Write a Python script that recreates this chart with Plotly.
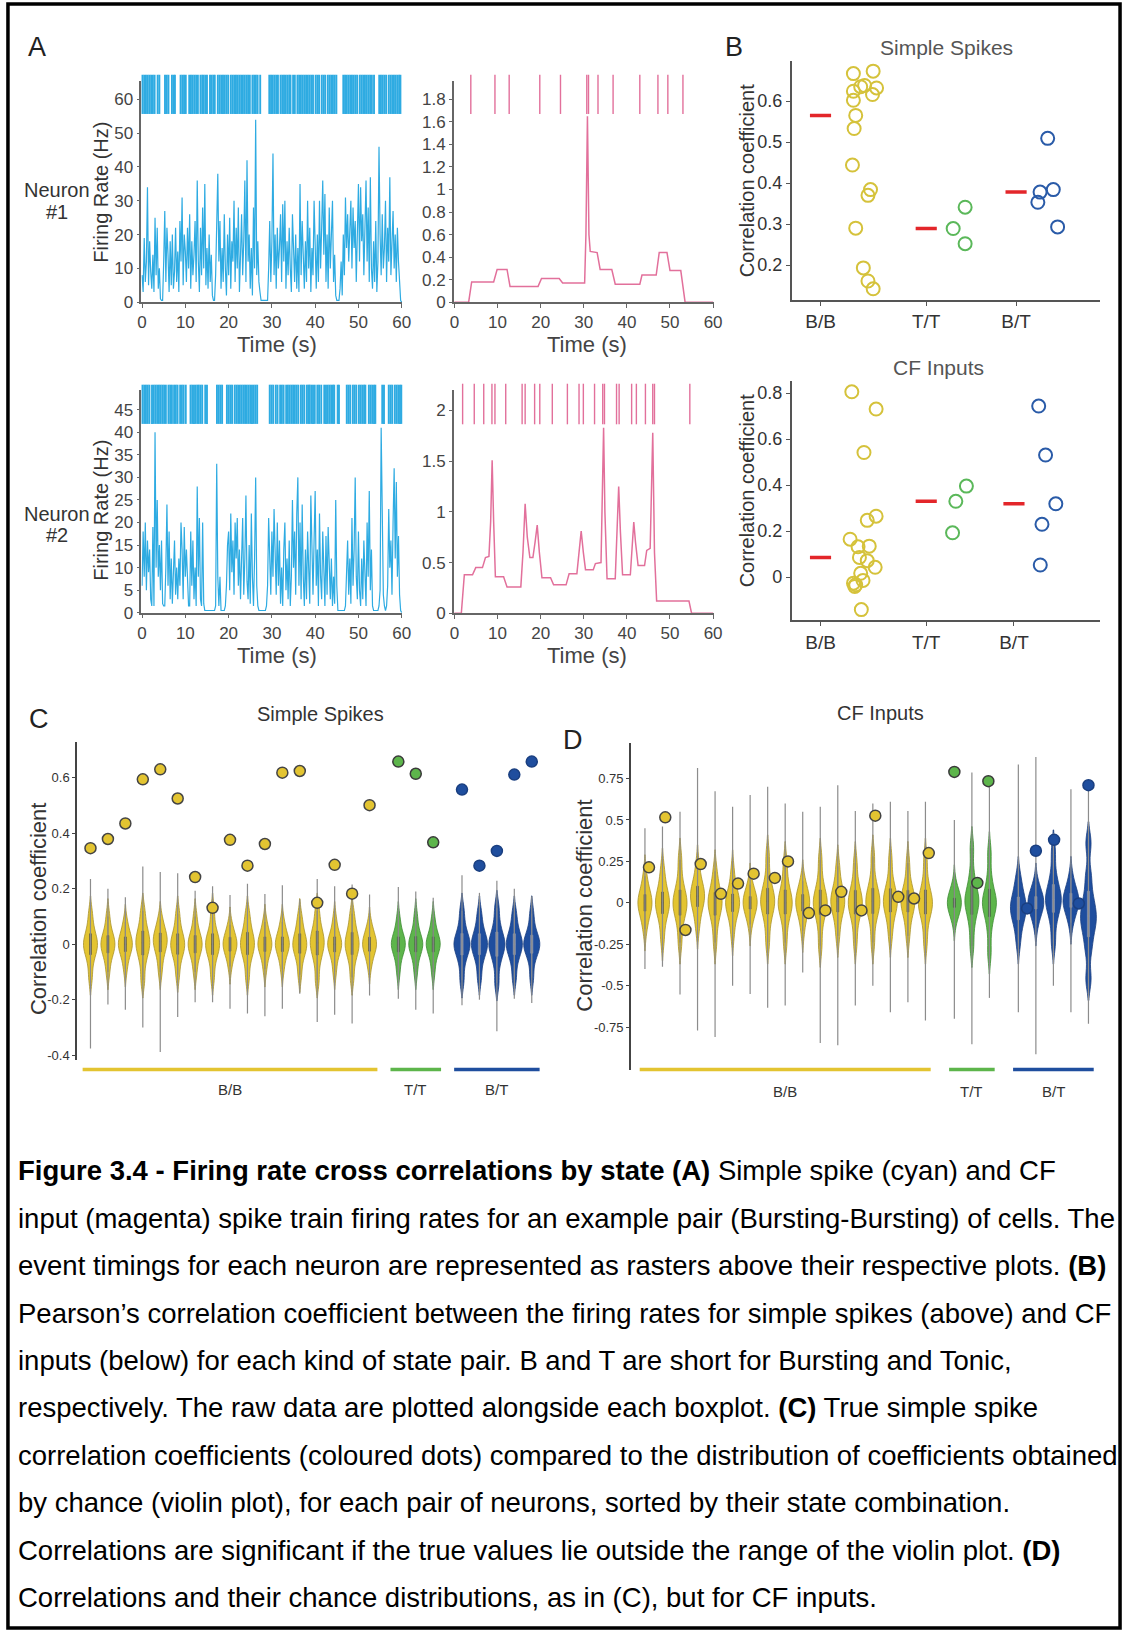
import numpy as np
import plotly.graph_objects as go

W, H = 1133, 1642
FONT = "Liberation Sans, Arial, Helvetica, sans-serif"

CYAN = "#2EABE2"
PINK = "#E2709B"
YEL_B = "#D5C23B"
GRN_B = "#5BB85A"
BLU_B = "#2A5BA8"
RED = "#E3262A"
YEL = "#E3C431"
GRN = "#5DB54B"
BLU = "#1F4E9E"

# ---------------- Panel A data ----------------
# simple-spike firing rate (Hz), sampled every 0.25 s
ss_rate_n1 = [
    8, 3, 19, 6, 12, 34, 5, 18, 9, 4, 14, 3, 25, 8, 22, 4, 10, 1, 0.5, 0.5,
    12, 27, 6, 22, 14, 3, 18, 5, 20, 4, 9, 22, 6, 15, 3, 24, 12, 31, 5, 20,
    15, 6, 22, 10, 26, 4, 18, 8, 14, 24, 6, 36, 12, 3, 22, 8, 28, 10, 35, 5,
    16, 4, 20, 6, 14, 2, 0.5, 0.5, 8, 30, 38, 12, 24, 4, 16, 6, 26, 10, 2, 20,
    8, 25, 4, 18, 12, 30, 6, 22, 10, 28, 3, 14, 26, 8, 18, 36, 6, 42, 12, 20,
    4, 16, 2, 28, 10, 54, 8, 18, 6, 3, 0.5, 0.5, 0.5, 0.5, 0.5, 0.5, 0.5, 10, 24, 6,
    18, 44, 8, 20, 4, 22, 10, 16, 26, 6, 29, 12, 30, 4, 18, 8, 22, 10, 3, 26,
    12, 6, 20, 4, 16, 3, 35, 8, 24, 12, 4, 18, 6, 30, 10, 22, 3, 16, 8, 30,
    12, 4, 20, 6, 30, 10, 22, 36, 14, 32, 6, 20, 4, 28, 10, 18, 30, 6, 14, 2,
    0.5, 0.5, 0.5, 4, 12, 2, 20, 8, 31, 16, 26, 12, 22, 30, 10, 28, 16, 24, 6, 20,
    35, 12, 34, 18, 26, 8, 22, 36, 12, 28, 6, 37, 10, 4, 18, 6, 24, 3, 12, 46,
    20, 8, 26, 10, 16, 30, 6, 22, 12, 37, 8, 18, 27, 10, 20, 6, 22, 12, 4, 0.5,
    0]
ss_rate_n2 = [
    6, 18, 8, 20, 5, 16, 9, 14, 3, 1.5, 19, 1.5, 40, 10, 25, 8, 15, 5, 16, 2,
    1.5, 1.5, 10, 24, 6, 18, 3, 12, 2, 8, 16, 4, 10, 3, 12, 6, 20, 14, 3, 19,
    8, 14, 5, 1.5, 1.5, 18, 6, 16, 3, 10, 1.5, 28, 8, 21, 3, 1.5, 20, 2, 0.5, 0.5,
    0.5, 0.5, 0.5, 0.5, 0.5, 0.5, 0.5, 0.5, 1.5, 33, 8, 1.5, 8, 0.5, 0.5, 0.5, 0.5, 1.5, 6, 15,
    18, 5, 22, 9, 16, 4, 20, 12, 21, 6, 14, 3, 10, 21, 4, 12, 26, 7, 3, 15,
    2, 22, 8, 1.5, 12, 30, 6, 1.5, 0.5, 0.5, 0.5, 0.5, 0.5, 0.5, 0.5, 1.5, 6, 21, 10, 4,
    18, 8, 23, 12, 4, 20, 6, 16, 2, 10, 1.5, 14, 20, 5, 12, 3, 16, 1.5, 8, 25,
    10, 18, 4, 22, 30, 6, 20, 3, 24, 8, 1.5, 14, 3, 18, 6, 2, 26, 10, 4, 16,
    27, 6, 14, 1.5, 22, 8, 3, 18, 6, 1.5, 17, 4, 19, 10, 3, 12, 1.5, 8, 2, 25,
    6, 0.5, 0.5, 0.5, 0.5, 0.5, 0.5, 0.5, 1.5, 8, 16, 4, 12, 2, 21, 6, 14, 30, 8, 3,
    18, 5, 1.5, 12, 3, 16, 6, 1.5, 20, 8, 27, 5, 14, 1.5, 0.5, 0.5, 0.5, 0.5, 0.5, 1.5,
    5, 41, 14, 4, 1.5, 0.5, 1.5, 6, 23, 10, 16, 4, 20, 32, 12, 29, 8, 17, 4, 0.5,
    0]
ss_dt = 0.25

# simple-spike raster event times (s)
ss_spikes_n1 = [
    0.1, 0.5, 0.9, 1.3, 1.7, 2.1, 2.5, 2.9, 3.6, 4.0,
    5.3, 5.7, 6.1, 6.9, 7.3, 7.6,
    8.9, 9.3, 9.7, 10.1, 10.9, 11.3, 11.7, 12.1, 12.5, 12.9, 13.5, 13.9,
    14.2, 14.6, 15.0, 15.7, 16.1, 16.5, 16.8,
    17.5, 17.9, 18.3, 18.7, 19.1, 19.5, 19.9, 20.5, 20.9, 21.3, 21.7, 22.1, 22.5, 22.9,
    23.3, 23.7, 24.1, 24.5, 24.9, 25.5, 25.9, 26.3, 26.7, 27.3,
    29.4, 29.8, 30.2, 30.6, 31.0, 31.4, 32.0, 32.4, 32.8, 33.2, 33.6, 34.0, 34.3,
    34.9, 35.3, 35.9, 36.3, 36.7, 37.1, 37.5, 37.9, 38.3, 38.7, 39.1, 39.5,
    40.1, 40.5, 40.9, 41.5, 41.9, 42.3, 42.9, 43.3, 43.7, 44.1, 44.5, 44.9,
    46.5, 46.9, 47.3, 47.7, 48.1, 48.5, 48.9, 49.3, 49.7, 50.3, 50.7, 51.1, 51.5,
    51.9, 52.3, 52.7, 53.1, 53.6,
    54.8, 55.2, 55.6, 56.0, 56.4, 57.0, 57.4, 57.8, 58.2, 58.6, 59.0, 59.4, 59.7]
ss_spikes_n2 = [
    0.1, 0.5, 0.9, 1.3, 1.7, 2.3, 2.7, 3.1, 3.5, 3.9, 4.3, 4.7, 5.1, 5.5,
    6.1, 6.5, 6.9, 7.4, 7.8, 8.2, 8.8, 9.2, 9.6, 10.1,
    11.2, 11.6, 12.0, 12.4, 12.8, 13.1, 13.5, 13.9, 14.6, 15.0,
    17.3, 17.7, 18.1, 18.5,
    19.6, 20.0, 20.4, 20.8, 21.4, 21.8, 22.2, 22.6, 23.0, 23.4, 23.8, 24.2, 24.6,
    25.0, 25.4, 25.8, 26.2, 26.6,
    29.5, 29.9, 30.3, 30.9, 31.3, 31.9, 32.3, 32.7, 33.3, 33.7, 34.1, 34.5, 34.9,
    35.3, 35.7, 36.1, 36.7, 37.1, 37.5, 38.1, 38.5, 38.7,
    39.1, 39.5, 39.9, 40.5, 40.9, 41.4, 42.1, 42.5, 42.9, 43.3, 43.7, 44.1, 44.4,
    45.2, 45.5,
    47.3, 47.7, 48.1, 48.7, 49.1, 49.5, 50.1, 50.5, 50.9, 51.3, 51.6,
    52.4, 52.8, 53.2, 53.6, 53.9, 55.5, 55.9,
    57.0, 57.4, 57.8, 58.4, 58.8, 59.2, 59.6, 59.9]

# CF input firing rate (Hz)
cf_time_n1 = [0, 3.3, 4.0, 9.1, 9.9, 12.2, 12.9, 19.4, 20.2, 24.3, 25.1, 30.2, 30.5,
              30.85, 31.2, 31.5, 33.1, 33.8, 36.5, 37.3, 43.0, 43.5, 46.8, 47.5,
              49.3, 50.0, 52.5, 53.5, 60]
cf_rate_n1 = [0, 0, 0.18, 0.18, 0.29, 0.29, 0.14, 0.14, 0.21, 0.21, 0.17, 0.17, 0.6,
              1.65, 0.6, 0.45, 0.44, 0.29, 0.29, 0.16, 0.16, 0.24, 0.24, 0.44,
              0.44, 0.28, 0.28, 0, 0]
cf_time_n2 = [0, 1.6, 2.3, 4.2, 4.95, 6.5, 7.2, 8.0, 8.4, 8.75, 9.1, 9.5, 11.4, 12.2,
              15.4, 15.9, 16.4, 16.9, 17.5, 18.2, 18.7, 19.2, 19.7, 20.3, 22.3, 23.0,
              25.9, 26.6, 28.4, 28.9, 29.4, 29.9, 30.4, 32.2, 32.7, 34.0, 34.35,
              34.6, 34.9, 35.4, 37.3, 37.7, 38.1, 38.5, 39.0, 40.8, 41.2, 41.6,
              42.0, 42.6, 44.1, 44.6, 45.4, 45.7, 46.0, 46.4, 46.9, 54.4, 55.0, 60]
cf_rate_n2 = [0, 0, 0.38, 0.38, 0.45, 0.45, 0.55, 0.56, 0.9, 1.51, 0.9, 0.36, 0.36,
              0.26, 0.26, 0.6, 1.08, 0.75, 0.55, 0.55, 0.7, 0.87, 0.6, 0.35, 0.35,
              0.28, 0.28, 0.39, 0.39, 0.6, 0.81, 0.6, 0.43, 0.43, 0.49, 0.5, 1.2,
              1.83, 1.0, 0.34, 0.34, 0.8, 1.25, 0.8, 0.38, 0.38, 0.65, 0.9, 0.7,
              0.47, 0.47, 0.62, 0.64, 1.2, 1.78, 0.6, 0.12, 0.12, 0, 0]
cf_spikes_n1 = [3.8, 9.4, 12.7, 19.8, 24.6, 30.7, 31.1, 33.3, 36.8, 43.0, 47.2, 49.5, 53.0]
cf_spikes_n2 = [1.9, 4.6, 6.8, 8.7, 9.4, 11.9, 15.7, 16.4, 18.6, 19.8, 22.7, 26.2, 28.9,
                29.9, 32.5, 34.4, 34.8, 37.6, 38.2, 41.1, 42.2, 44.3, 46.0, 46.4, 54.6]

# ---------------- Panel B data ----------------
state_pairs = ["B/B", "T/T", "B/T"]
b_ss = {
    "B/B": [0.667, 0.673, 0.638, 0.635, 0.624, 0.632, 0.616, 0.602, 0.565, 0.533,
            0.444, 0.384, 0.370, 0.290, 0.193, 0.161, 0.142],
    "T/T": [0.289, 0.341, 0.252],
    "B/T": [0.509, 0.378, 0.353, 0.384, 0.293],
}
b_ss_jitter = {
    "B/B": [0.311, 0.498, 0.417, 0.38, 0.311, 0.53, 0.492, 0.311, 0.333, 0.318,
            0.302, 0.473, 0.449, 0.333, 0.405, 0.449, 0.498],
    "T/T": [0.255, 0.368, 0.368],
    "B/T": [0.299, 0.227, 0.206, 0.352, 0.393],
}
b_cf = {
    "B/B": [0.806, 0.731, 0.542, 0.265, 0.247, 0.165, 0.132, 0.135, 0.086, 0.072,
            0.043, 0.017, -0.014, -0.026, -0.033, -0.040, -0.141],
    "T/T": [0.396, 0.33, 0.193],
    "B/T": [0.744, 0.531, 0.319, 0.23, 0.053],
}
b_cf_jitter = {
    "B/B": [0.296, 0.526, 0.411, 0.526, 0.442, 0.28, 0.355, 0.461, 0.368, 0.442,
            0.517, 0.38, 0.402, 0.312, 0.333, 0.324, 0.386],
    "T/T": [0.38, 0.28, 0.249],
    "B/T": [0.234, 0.299, 0.396, 0.265, 0.249],
}

# ---------------- Panels C & D data ----------------
group_sizes = [17, 3, 5]   # B/B, T/T, B/T pairs

c_true = [0.346, 0.379, 0.435, 0.594, 0.63, 0.525, 0.242, 0.131, 0.376, 0.283, 0.361,
          0.618, 0.624, 0.149, 0.286, 0.182, 0.501,
          0.658, 0.614, 0.367,
          0.557, 0.283, 0.336, 0.611, 0.658]
c_min = [-0.376, -0.217, -0.236, -0.30, -0.388, -0.262, -0.209, -0.209, -0.233, -0.25,
         -0.26, -0.233, -0.179, -0.28, -0.254, -0.286, -0.185,
         -0.197, -0.236, -0.25,
         -0.22, -0.2, -0.314, -0.197, -0.212]
c_max = [0.235, 0.2, 0.169, 0.28, 0.26, 0.256, 0.193, 0.209, 0.177, 0.218, 0.181,
         0.212, 0.161, 0.235, 0.209, 0.215, 0.179,
         0.206, 0.19, 0.167,
         0.248, 0.185, 0.229, 0.2, 0.173]
c_chance = [
    [-0.12, -0.06, -0.03, -0.01, 0, 0.01, 0.03, 0.06, 0.11],
    [-0.10, -0.05, -0.025, -0.01, 0, 0.01, 0.025, 0.05, 0.10],
    [-0.09, -0.045, -0.02, -0.01, 0, 0.01, 0.02, 0.045, 0.08],
    [-0.13, -0.065, -0.03, -0.01, 0.005, 0.02, 0.04, 0.07, 0.12],
    [-0.10, -0.05, -0.02, 0, 0.01, 0.02, 0.035, 0.055, 0.09],
    [-0.11, -0.055, -0.03, -0.01, 0, 0.01, 0.03, 0.06, 0.11],
    [-0.10, -0.05, -0.025, -0.01, 0, 0.01, 0.025, 0.05, 0.10],
    [-0.12, -0.06, -0.03, -0.01, 0, 0.01, 0.03, 0.06, 0.12],
    [-0.08, -0.04, -0.02, -0.005, 0, 0.005, 0.02, 0.04, 0.07],
    [-0.12, -0.06, -0.03, -0.01, 0, 0.015, 0.035, 0.065, 0.11],
    [-0.09, -0.045, -0.02, -0.005, 0, 0.005, 0.02, 0.045, 0.08],
    [-0.09, -0.045, -0.02, -0.005, 0, 0.005, 0.02, 0.045, 0.08],
    [-0.11, -0.055, -0.025, -0.01, 0, 0.01, 0.03, 0.06, 0.10],
    [-0.13, -0.065, -0.03, -0.01, 0.005, 0.02, 0.04, 0.07, 0.12],
    [-0.10, -0.05, -0.02, -0.005, 0, 0.005, 0.02, 0.045, 0.09],
    [-0.12, -0.06, -0.03, -0.01, 0, 0.015, 0.035, 0.065, 0.11],
    [-0.08, -0.04, -0.02, -0.005, 0, 0.005, 0.02, 0.04, 0.07],
    [-0.10, -0.05, -0.02, -0.005, 0, 0.005, 0.02, 0.045, 0.09],
    [-0.10, -0.05, -0.02, -0.005, 0, 0.005, 0.02, 0.05, 0.10],
    [-0.10, -0.05, -0.02, -0.005, 0, 0.005, 0.02, 0.045, 0.09],
    [-0.13, -0.065, -0.03, -0.01, 0, 0.01, 0.03, 0.065, 0.12],
    [-0.12, -0.06, -0.03, -0.01, 0, 0.01, 0.03, 0.06, 0.11],
    [-0.14, -0.07, -0.035, -0.01, 0, 0.01, 0.035, 0.07, 0.13],
    [-0.12, -0.06, -0.03, -0.01, 0, 0.01, 0.03, 0.06, 0.11],
    [-0.12, -0.055, -0.025, -0.01, 0, 0.01, 0.025, 0.055, 0.11],
]

d_true = [0.214, 0.516, -0.164, 0.234, 0.054, 0.116, 0.176, 0.15, 0.25, -0.062, -0.046,
          0.066, -0.046, 0.526, 0.036, 0.026, 0.3,
          0.79, 0.12, 0.734,
          -0.034, 0.314, 0.38, -0.004, 0.71]
d_true_jitter = [0.23, 0.16, 0.31, 0.18, 0.33, 0.31, 0.2, 0.41, 0.16, 0.35, 0.29, 0.2,
                 0.35, 0.14, 0.45, 0.35, 0.19,
                 0, 0.31, -0.06,
                 0.5, 0, 0.04, 0.45, 0]
d_min = [-0.4, -0.386, -0.554, -0.77, -0.81, -0.5, -0.55, -0.634, -0.62, -0.42, -0.846,
         -0.86, -0.62, -0.5, -0.66, -0.6, -0.71,
         -0.7, -0.854, -0.574,
         -0.66, -0.914, -0.5, -0.66, -0.73]
d_max = [0.45, 0.46, 0.55, 0.814, 0.674, 0.58, 0.65, 0.7, 0.6, 0.55, 0.58, 0.71, 0.554,
         0.6, 0.61, 0.554, 0.61,
         0.5, 0.786, 0.73,
         0.834, 0.88, 0.42, 0.686, 0.71]
d_chance = [
    [-0.16, -0.08, -0.04, -0.015, 0, 0.015, 0.04, 0.08, 0.16],
    [-0.22, -0.11, -0.05, -0.02, 0, 0.02, 0.05, 0.11, 0.20],
    [-0.24, -0.12, -0.06, -0.02, 0, 0.02, 0.06, 0.13, 0.26],
    [-0.15, -0.06, -0.01, 0.02, 0.04, 0.06, 0.09, 0.13, 0.22],
    [-0.24, -0.12, -0.06, -0.02, 0, 0.02, 0.05, 0.10, 0.19],
    [-0.19, -0.09, -0.04, -0.015, 0, 0.015, 0.04, 0.09, 0.19],
    [-0.13, -0.06, -0.03, -0.01, 0, 0.01, 0.03, 0.06, 0.11],
    [-0.24, -0.12, -0.05, -0.01, 0.01, 0.03, 0.07, 0.14, 0.28],
    [-0.24, -0.12, -0.05, -0.02, 0, 0.02, 0.06, 0.13, 0.24],
    [-0.17, -0.08, -0.04, -0.015, 0, 0.015, 0.04, 0.08, 0.13],
    [-0.26, -0.13, -0.05, -0.02, 0, 0.02, 0.06, 0.13, 0.26],
    [-0.20, -0.10, -0.04, -0.01, 0.01, 0.03, 0.06, 0.12, 0.22],
    [-0.24, -0.12, -0.05, -0.02, 0, 0.02, 0.06, 0.12, 0.24],
    [-0.24, -0.11, -0.05, -0.01, 0.01, 0.03, 0.07, 0.14, 0.28],
    [-0.20, -0.10, -0.04, -0.01, 0.01, 0.03, 0.07, 0.13, 0.26],
    [-0.20, -0.10, -0.04, -0.01, 0.01, 0.03, 0.06, 0.12, 0.24],
    [-0.24, -0.12, -0.05, -0.02, 0, 0.02, 0.06, 0.13, 0.26],
    [-0.10, -0.05, -0.02, -0.005, 0, 0.005, 0.02, 0.05, 0.10],
    [-0.26, -0.13, -0.05, -0.01, 0.01, 0.04, 0.08, 0.17, 0.33],
    [-0.30, -0.15, -0.06, -0.02, 0, 0.02, 0.06, 0.15, 0.30],
    [-0.24, -0.14, -0.09, -0.05, -0.03, -0.01, 0.02, 0.08, 0.15],
    [-0.13, -0.06, -0.03, -0.01, 0, 0.01, 0.03, 0.06, 0.11],
    [-0.24, -0.11, -0.04, 0, 0.02, 0.05, 0.09, 0.17, 0.31],
    [-0.12, -0.05, -0.02, 0, 0.01, 0.025, 0.05, 0.08, 0.15],
    [-0.46, -0.28, -0.18, -0.12, -0.08, -0.03, 0.04, 0.16, 0.36],
]

caption_lines = [
    "<b>Figure 3.4 - Firing rate cross correlations by state (A)</b> Simple spike (cyan) and CF",
    "input (magenta) spike train firing rates for an example pair (Bursting-Bursting) of cells. The",
    "event timings for each neuron are represented as rasters above their respective plots. <b>(B)</b>",
    "Pearson\u2019s correlation coefficient between the firing rates for simple spikes (above) and CF",
    "inputs (below) for each kind of state pair. B and T are short for Bursting and Tonic,",
    "respectively. The raw data are plotted alongside each boxplot. <b>(C)</b> True simple spike",
    "correlation coefficients (coloured dots) compared to the distribution of coefficients obtained",
    "by chance (violin plot), for each pair of neurons, sorted by their state combination.",
    "Correlations are significant if the true values lie outside the range of the violin plot. <b>(D)</b>",
    "Correlations and their chance distributions, as in (C), but for CF inputs.",
]

# ---------------- helpers ----------------
def dx(a, b):
    return [a / W, b / W]


def dy(top, bottom):
    return [1 - bottom / H, 1 - top / H]


def txt(x, y, s, size, color="#333", angle=0, xanchor="center", yanchor="middle"):
    return dict(x=x / W, y=1 - y / H, xref="paper", yref="paper", text=s,
                showarrow=False, textangle=angle, xanchor=xanchor, yanchor=yanchor,
                font=dict(family=FONT, size=size, color=color))


def fmt(v):
    return ("%g" % v)


fig = go.Figure()

# ---------------- Panel A traces ----------------
t1 = np.arange(len(ss_rate_n1)) * ss_dt
t2 = np.arange(len(ss_rate_n2)) * ss_dt
fig.add_trace(go.Scatter(x=t1, y=ss_rate_n1, mode="lines", line=dict(color=CYAN, width=1.2),
                         xaxis="x", yaxis="y"))
fig.add_trace(go.Scatter(x=ss_spikes_n1, y=[61.5] * len(ss_spikes_n1), mode="markers",
                         marker=dict(symbol="line-ns", size=28, line=dict(color=CYAN, width=1.9)),
                         xaxis="x", yaxis="y", cliponaxis=False))
fig.add_trace(go.Scatter(x=cf_time_n1, y=cf_rate_n1, mode="lines", line=dict(color=PINK, width=1.5),
                         xaxis="x2", yaxis="y2"))
fig.add_trace(go.Scatter(x=cf_spikes_n1, y=[1.845] * len(cf_spikes_n1), mode="markers",
                         marker=dict(symbol="line-ns", size=28, line=dict(color=PINK, width=1.4)),
                         xaxis="x2", yaxis="y2", cliponaxis=False))
fig.add_trace(go.Scatter(x=t2, y=ss_rate_n2, mode="lines", line=dict(color=CYAN, width=1.2),
                         xaxis="x3", yaxis="y3"))
fig.add_trace(go.Scatter(x=ss_spikes_n2, y=[46.2] * len(ss_spikes_n2), mode="markers",
                         marker=dict(symbol="line-ns", size=28, line=dict(color=CYAN, width=1.9)),
                         xaxis="x3", yaxis="y3", cliponaxis=False))
fig.add_trace(go.Scatter(x=cf_time_n2, y=cf_rate_n2, mode="lines", line=dict(color=PINK, width=1.5),
                         xaxis="x4", yaxis="y4"))
fig.add_trace(go.Scatter(x=cf_spikes_n2, y=[2.064] * len(cf_spikes_n2), mode="markers",
                         marker=dict(symbol="line-ns", size=29, line=dict(color=PINK, width=1.4)),
                         xaxis="x4", yaxis="y4", cliponaxis=False))

# ---------------- Panel B traces ----------------
cat_x_top = {"B/B": 1.0, "T/T": 2.0, "B/T": 2.85}
cat_x_bot = {"B/B": 1.0, "T/T": 2.0, "B/T": 2.83}
b_colors = {"B/B": YEL_B, "T/T": GRN_B, "B/T": BLU_B}
for data, jit, cx, xa, ya in [(b_ss, b_ss_jitter, cat_x_top, "x5", "y5"),
                               (b_cf, b_cf_jitter, cat_x_bot, "x6", "y6")]:
    for k in state_pairs:
        vals = data[k]
        xs = [cx[k] + j for j in jit[k]]
        fig.add_trace(go.Scatter(x=xs, y=vals, mode="markers", xaxis=xa, yaxis=ya,
                                 marker=dict(symbol="circle-open", size=13, color=b_colors[k],
                                             line=dict(color=b_colors[k], width=2))))
        med = float(np.median(vals))
        fig.add_trace(go.Scatter(x=[cx[k] - 0.1, cx[k] + 0.1], y=[med, med], mode="lines",
                                 xaxis=xa, yaxis=ya, line=dict(color=RED, width=3.5)))

# ---------------- Panels C & D traces ----------------
positions, pos_groups = [], []
off = 0.0
for g, n in enumerate(group_sizes):
    grp = []
    for i in range(n):
        positions.append(off + i)
        grp.append(off + i)
    pos_groups.append(grp)
    off += n + 0.65
grp_of = []
for g, n in enumerate(group_sizes):
    grp_of += [g] * n
vfill = [YEL, GRN, BLU]
vline = ["#A8922C", "#3E8A33", "#1A3F80"]
boxfill = ["#5a5848", "#485a46", "#8a96b0"]
dotline = ["#444444", "#3a3a3a", "#1A3F80"]

for chance, lo, hi, true, jit, xa, ya, bw, wids in [
        (c_chance, c_min, c_max, c_true, [0] * 25, "x7", "y7", 0.032, [0.8, 0.8, 0.92]),
        (d_chance, d_min, d_max, d_true, d_true_jitter, "x8", "y8", 0.065, [0.8, 0.8, 0.9])]:
    for i, p in enumerate(positions):
        g = grp_of[i]
        fig.add_trace(go.Violin(x=[p] * len(chance[i]), y=chance[i], xaxis=xa, yaxis=ya,
                                width=wids[g], scalemode="width",
                                bandwidth=bw, spanmode="soft", points=False,
                                fillcolor=vfill[g], opacity=1,
                                line=dict(color=vline[g], width=0.8),
                                box=dict(visible=True, width=0.14, fillcolor=boxfill[g],
                                         line=dict(color=boxfill[g], width=0.6)),
                                meanline=dict(visible=False), hoverinfo="skip"))
    wx, wy = [], []
    for i, p in enumerate(positions):
        wx += [p, p, None]
        wy += [lo[i], hi[i], None]
    fig.add_trace(go.Scatter(x=wx, y=wy, mode="lines", xaxis=xa, yaxis=ya,
                             line=dict(color="#8c8c8c", width=1.2), hoverinfo="skip"))
    for g in range(3):
        idx = [i for i in range(len(positions)) if grp_of[i] == g]
        fig.add_trace(go.Scatter(x=[positions[i] + jit[i] for i in idx], y=[true[i] for i in idx],
                                 mode="markers", xaxis=xa, yaxis=ya, cliponaxis=False,
                                 marker=dict(size=11, color=vfill[g],
                                             line=dict(color=dotline[g], width=1.5))))

# ---------------- layout ----------------
AX = dict(showgrid=False, zeroline=False, showline=True, linecolor="#666", linewidth=1.5,
          ticks="outside", ticklen=4, tickcolor="#666", tickwidth=1.2)


def axis(**kw):
    d = dict(AX)
    d.update(kw)
    return d


tfA = dict(family=FONT, size=17, color="#444")
xt = [0, 10, 20, 30, 40, 50, 60]
layout = dict(
    width=W, height=H, margin=dict(l=0, r=0, t=0, b=0),
    paper_bgcolor="white", plot_bgcolor="rgba(0,0,0,0)", showlegend=False,
    violinmode="overlay", font=dict(family=FONT),
    xaxis=axis(domain=dx(139, 403), range=[-0.15, 60.15], anchor="y", tickvals=xt,
               ticktext=[fmt(v) for v in xt], tickfont=tfA),
    yaxis=axis(domain=dy(81, 304), range=[0, 65.6], anchor="x",
               tickvals=[0, 10, 20, 30, 40, 50, 60],
               ticktext=[fmt(v) for v in [0, 10, 20, 30, 40, 50, 60]], tickfont=tfA, ticklen=3),
    xaxis2=axis(domain=dx(455, 718), range=[-0.15, 60.15], anchor="y2", tickvals=xt,
                ticktext=[fmt(v) for v in xt], tickfont=tfA),
    yaxis2=axis(domain=dy(81, 304), range=[0, 1.968], anchor="x2",
                tickvals=[0, 0.2, 0.4, 0.6, 0.8, 1.0, 1.2, 1.4, 1.6, 1.8],
                ticktext=[fmt(v) for v in [0, 0.2, 0.4, 0.6, 0.8, 1.0, 1.2, 1.4, 1.6, 1.8]],
                tickfont=tfA, ticklen=3),
    xaxis3=axis(domain=dx(139, 403), range=[-0.15, 60.15], anchor="y3", tickvals=xt,
                ticktext=[fmt(v) for v in xt], tickfont=tfA),
    yaxis3=axis(domain=dy(392.7, 616.5), range=[0, 49.3], anchor="x3",
                tickvals=[0, 5, 10, 15, 20, 25, 30, 35, 40, 45],
                ticktext=[fmt(v) for v in [0, 5, 10, 15, 20, 25, 30, 35, 40, 45]],
                tickfont=tfA, ticklen=3),
    xaxis4=axis(domain=dx(455, 718), range=[-0.15, 60.15], anchor="y4", tickvals=xt,
                ticktext=[fmt(v) for v in xt], tickfont=tfA),
    yaxis4=axis(domain=dy(392, 617), range=[0, 2.206], anchor="x4",
                tickvals=[0, 0.5, 1, 1.5, 2], ticktext=["0", "0.5", "1", "1.5", "2"],
                tickfont=tfA, ticklen=3),
    xaxis5=axis(domain=dx(796.7, 1108.3), range=[0.726, 3.64], anchor="y5",
                tickvals=[cat_x_top[k] for k in state_pairs], ticktext=state_pairs,
                tickfont=dict(family=FONT, size=19, color="#333"), linecolor="#555", tickcolor="#555"),
    yaxis5=axis(domain=dy(61.7, 301.7), range=[0.115, 0.697], anchor="x5",
                tickvals=[0.2, 0.3, 0.4, 0.5, 0.6], ticktext=["0.2", "0.3", "0.4", "0.5", "0.6"],
                tickfont=dict(family=FONT, size=18, color="#333"), linecolor="#555", tickcolor="#555"),
    xaxis6=axis(domain=dx(796.7, 1108.3), range=[0.726, 3.64], anchor="y6",
                tickvals=[cat_x_bot[k] for k in state_pairs], ticktext=state_pairs,
                tickfont=dict(family=FONT, size=19, color="#333"), linecolor="#555", tickcolor="#555"),
    yaxis6=axis(domain=dy(383.3, 624), range=[-0.187, 0.853], anchor="x6",
                tickvals=[0, 0.2, 0.4, 0.6, 0.8], ticktext=["0", "0.2", "0.4", "0.6", "0.8"],
                tickfont=dict(family=FONT, size=18, color="#333"), linecolor="#555", tickcolor="#555"),
    xaxis7=dict(domain=dx(73.9, 545), range=[-0.77, 25.93], anchor="y7", visible=False),
    yaxis7=axis(domain=dy(746.7, 1066.7), range=[-0.418, 0.728], anchor="x7",
                tickvals=[-0.4, -0.2, 0, 0.2, 0.4, 0.6],
                ticktext=["-0.4", "-0.2", "0", "0.2", "0.4", "0.6"],
                tickfont=dict(family=FONT, size=13, color="#333"), linecolor="#444",
                tickcolor="#444", ticklen=3),
    xaxis8=dict(domain=dx(634.2, 1110), range=[-0.8, 26.03], anchor="y8", visible=False),
    yaxis8=axis(domain=dy(747.3, 1076.7), range=[-1.01, 0.966], anchor="x8",
                tickvals=[-0.75, -0.5, -0.25, 0, 0.25, 0.5, 0.75],
                ticktext=["-0.75", "-0.5", "-0.25", "0", "0.25", "0.5", "0.75"],
                tickfont=dict(family=FONT, size=13, color="#333"), linecolor="#444",
                tickcolor="#444", ticklen=3),
)

ann = []
# panel letters
ann += [txt(33, 47, "A", 27, "#222"), txt(738, 47, "B", 27, "#222"),
        txt(35, 723, "C", 27, "#222"), txt(576, 745, "D", 27, "#222")]
# panel A labels
for (nx, ny, s) in [(54, 191, "Neuron"), (54, 213, "#1"), (54, 517, "Neuron"), (54, 538, "#2")]:
    ann.append(txt(nx, ny, s, 20, "#333"))
ann += [txt(98, 193, "Firing Rate (Hz)", 20, "#333", angle=-90),
        txt(98, 513, "Firing Rate (Hz)", 20, "#333", angle=-90)]
for (tx, ty) in [(276, 347), (590, 347), (276, 660), (590, 660)]:
    ann.append(txt(tx, ty, "Time (s)", 22, "#444"))
# panel B labels
ann += [txt(953, 48, "Simple Spikes", 21, "#555"), txt(945, 370, "CF Inputs", 21, "#555"),
        txt(752, 181, "Correlation coefficient", 20, "#333", angle=-90),
        txt(752, 493, "Correlation coefficient", 20, "#333", angle=-90)]
# panel C / D labels
ann += [txt(320, 718, "Simple Spikes", 20, "#333"), txt(887, 717, "CF Inputs", 20, "#333"),
        txt(35, 915, "Correlation coefficient", 22, "#333", angle=-90),
        txt(587, 911, "Correlation coefficient", 22, "#333", angle=-90)]

shapes = []
gcol = [YEL, GRN, BLU]
for xa, ext, ylab in [("x7", 0.45, 1096), ("x8", 0.3, 1098)]:
    for g, grp in enumerate(pos_groups):
        shapes.append(dict(type="line", xref=xa, yref="paper", x0=min(grp) - ext, x1=max(grp) + ext,
                           y0=1 - 1076 / H, y1=1 - 1076 / H, line=dict(color=gcol[g], width=3.5)))
        ann.append(dict(x=float(np.mean(grp)), y=1 - ylab / H, xref=xa, yref="paper",
                        text=state_pairs[g], showarrow=False, xanchor="center", yanchor="middle",
                        font=dict(family=FONT, size=15, color="#333")))

# caption
for i, line in enumerate(caption_lines):
    ann.append(txt(12, 1178 + 47.7 * i, line, 27.5, "#000", xanchor="left"))

# border
shapes.append(dict(type="rect", xref="paper", yref="paper", x0=4 / W, x1=1129 / W,
                   y0=1 - 1638 / H, y1=1 - 4 / H, line=dict(color="black", width=3.5)))

layout["annotations"] = ann
layout["shapes"] = shapes
fig.update_layout(**layout)
fig.write_html("out.html", config={"displayModeBar": False},
               post_script="document.body.style.margin='0';document.body.style.overflow='hidden';")
